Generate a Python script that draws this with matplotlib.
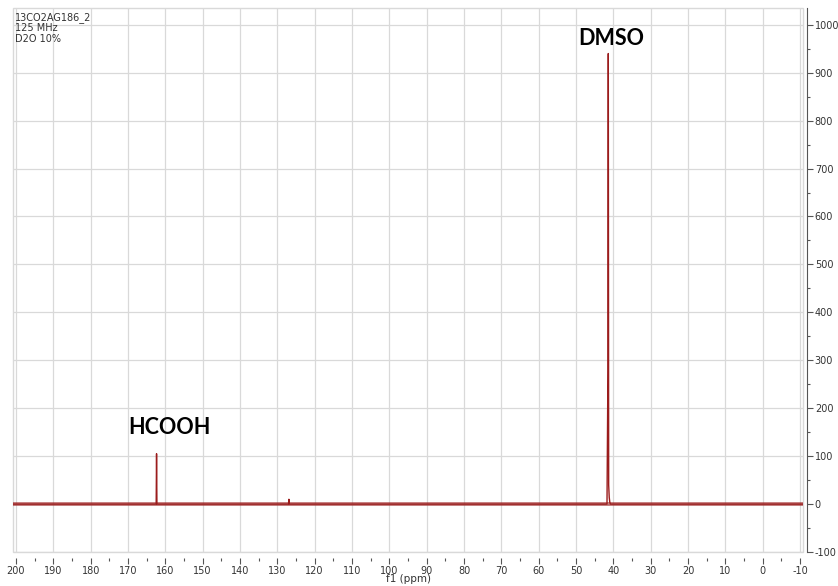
import numpy as np
import matplotlib.pyplot as plt
from matplotlib.patches import Rectangle
from matplotlib.ticker import MultipleLocator

plt.rcParams['axes.unicode_minus'] = False

# 13C spectrum, peaks picked by hand (ppm, intensity)
ppm = [200.8, 162.45, 162.35, 162.25, 127.0, 126.9, 126.8,
       41.7, 41.45, 41.35, 41.25, 41.1, 40.95, 40.8, -10.8]
intensity = [0, 0, 105, 0, 0, 10, 0,
             0, 280, 940, 40, 14, 4, 0, 0]
noise_level = 5

labels = ['DMSO', 'HCOOH']
label_ppm = [40.5, 159.0]
label_y = [972, 160]

header = '13CO2AG186_2\n125 MHz\nD2O 10%'

line_color = '#9b1c1c'
grid_color = '#d9d9d9'
text_color = '#333333'


def main():
    fig = plt.figure(figsize=(8.38, 5.86), dpi=100)
    ax = fig.add_axes([13 / 838, 34 / 586, 790 / 838, 544 / 586])

    ax.fill_between([ppm[0], ppm[-1]], -noise_level, noise_level,
                    color=line_color, alpha=0.55, lw=0)
    ax.plot(ppm, intensity, color=line_color, lw=1.0)

    ax.set_xlim(200.8, -10.8)
    ax.set_ylim(-100, 1035)

    ax.xaxis.set_major_locator(MultipleLocator(10))
    ax.xaxis.set_minor_locator(MultipleLocator(5))
    ax.yaxis.set_major_locator(MultipleLocator(100))
    ax.yaxis.set_minor_locator(MultipleLocator(50))
    ax.grid(True, which='major', color=grid_color, lw=0.9)
    ax.set_axisbelow(True)

    for side in ('top', 'left'):
        ax.spines[side].set_visible(False)
    ax.spines['bottom'].set_position(('outward', 4))
    ax.spines['bottom'].set_color('none')
    ax.spines['right'].set_position(('outward', 3))
    ax.spines['right'].set_color('#555555')
    ax.add_patch(Rectangle((0, 0), 1, 1, transform=ax.transAxes, fill=False,
                           edgecolor=grid_color, lw=1.0, zorder=0.5,
                           clip_on=False))

    ax.yaxis.tick_right()
    ax.tick_params(axis='both', which='major', length=4, width=0.8,
                   color='#555555', labelcolor=text_color, labelsize=7)
    ax.tick_params(axis='both', which='minor', length=2, width=0.8,
                   color='#555555')
    ax.tick_params(axis='x', pad=2)
    ax.tick_params(axis='y', pad=1.5)

    ax.set_xlabel('f1 (ppm)', fontsize=7.5, color=text_color, labelpad=-1)

    for text, x, y in zip(labels, label_ppm, label_y):
        ax.text(x, y, text, ha='center', va='center', fontsize=15.5,
                fontfamily='Lato', fontweight='bold', color='black')

    ax.text(0.003, 0.993, header, transform=ax.transAxes, ha='left',
            va='top', fontsize=7, color=text_color, linespacing=1.05)

    fig.savefig('out.png', dpi=100)


if __name__ == '__main__':
    main()
